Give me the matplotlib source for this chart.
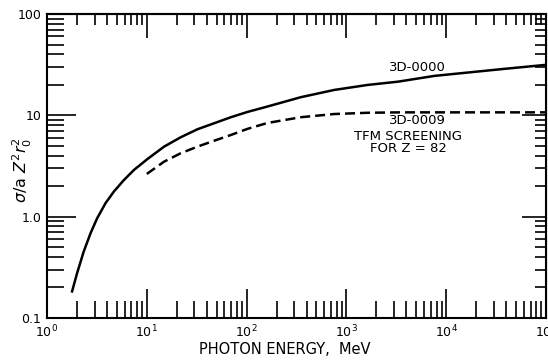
import numpy as np
import matplotlib
matplotlib.use("Agg")
import matplotlib.pyplot as plt
from matplotlib.ticker import LogLocator, FixedLocator, FixedFormatter, NullFormatter

# Data
energy_solid = [1.77, 2.00, 2.33, 2.73, 3.18, 3.86, 4.68, 5.90, 7.43, 10.1, 14.9, 21.9,
                32.2, 47.4, 69.6, 102, 161, 349, 754, 1633, 3300, 7620, 35000, 100000]
sigma_solid = [0.178, 0.276, 0.451, 0.686, 0.964, 1.36, 1.77, 2.30, 2.89, 3.69, 4.91, 6.08,
               7.29, 8.36, 9.58, 10.8, 12.2, 15.1, 17.8, 19.95, 21.5, 24.5, 28.5, 31.5]

energy_dashed = [10, 14.9, 21.9, 32.2, 47.4, 69.6, 102, 161, 349, 754, 1633, 3530,
                 10000, 100000]
sigma_dashed = [2.64, 3.49, 4.23, 4.91, 5.62, 6.40, 7.35, 8.4, 9.58, 10.3, 10.6, 10.7,
                10.7, 10.7]

x_ticks = [1, 10, 100, 1000, 10000, 100000]
x_ticklabels = [r"$10^0$", r"$10^1$", r"$10^2$", r"$10^3$", r"$10^4$", r"$10^5$"]
y_ticks = [0.1, 1, 10, 100]
y_ticklabels = ["0.1", "1.0", "10", "100"]

plt.rcParams['font.family'] = ['DejaVu Sans']
plt.rcParams['mathtext.fontset'] = 'dejavusans'

fig = plt.figure(figsize=(5.48, 3.60), dpi=100)
ax = fig.add_axes([47/548, 42/360, 499/548, 304/360])

ax.plot(energy_solid, sigma_solid, color='black', lw=1.8, solid_capstyle='butt',
        solid_joinstyle='round')
ax.plot(energy_dashed, sigma_dashed, color='black', lw=1.8, linestyle=(0, (4, 2)))

ax.set_xscale('log')
ax.set_yscale('log')
ax.set_xlim(1, 1e5)
ax.set_ylim(0.1, 100)

for s in ax.spines.values():
    s.set_linewidth(1.5)

ax.xaxis.set_major_locator(FixedLocator(x_ticks))
ax.xaxis.set_major_formatter(FixedFormatter(x_ticklabels))
ax.xaxis.set_minor_locator(LogLocator(base=10, subs=np.arange(2, 10)))
ax.xaxis.set_minor_formatter(NullFormatter())
ax.yaxis.set_major_locator(FixedLocator(y_ticks))
ax.yaxis.set_major_formatter(FixedFormatter(y_ticklabels))
ax.yaxis.set_minor_locator(LogLocator(base=10, subs=np.arange(2, 10)))
ax.yaxis.set_minor_formatter(NullFormatter())

ax.tick_params(which='major', direction='in', length=21, width=1.2, labelsize=9, color='black')
ax.tick_params(which='minor', direction='in', length=12, width=1.2, color='black')
ax.tick_params(axis='x', which='major', pad=4)
ax.tick_params(axis='y', which='major', pad=4)

# top and right ticks (shorter)
secx = ax.secondary_xaxis('top')
secx.set_xscale('log')
secx.xaxis.set_major_locator(FixedLocator(x_ticks))
secx.xaxis.set_minor_locator(LogLocator(base=10, subs=np.arange(2, 10)))
secx.xaxis.set_major_formatter(NullFormatter())
secx.xaxis.set_minor_formatter(NullFormatter())
secx.tick_params(which='major', direction='in', length=17, width=1.2)
secx.tick_params(which='minor', direction='in', length=8, width=1.2)
secx.spines['top'].set_linewidth(1.5)

secy = ax.secondary_yaxis('right')
secy.set_yscale('log')
secy.yaxis.set_major_locator(FixedLocator(y_ticks))
secy.yaxis.set_minor_locator(LogLocator(base=10, subs=np.arange(2, 10)))
secy.yaxis.set_major_formatter(NullFormatter())
secy.yaxis.set_minor_formatter(NullFormatter())
secy.tick_params(which='major', direction='in', length=17, width=1.2)
secy.tick_params(which='minor', direction='in', length=8, width=1.2)

fig.text(0.52, 0.028, "PHOTON ENERGY,  MeV", ha='center', va='center', fontsize=10.5)
fig.text(0.040, 0.528, r"$\sigma/\mathrm{a}\ Z^2 r_0^2$", rotation=90, ha='center',
         va='center', fontsize=11.5)

ax.text(5100, 29.4, "3D-0000", ha='center', va='center', fontsize=9.5)
ax.text(5200, 8.81, "3D-0009", ha='center', va='center', fontsize=9.5)
ax.text(4140, 6.12, "TFM SCREENING", ha='center', va='center', fontsize=9.5)
ax.text(4200, 4.66, "FOR Z = 82", ha='center', va='center', fontsize=9.5)

fig.savefig("out.png", dpi=100)
